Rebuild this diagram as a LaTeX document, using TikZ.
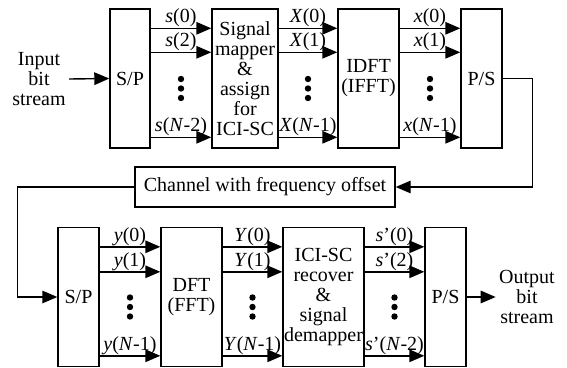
\documentclass[tikz,border=0pt]{standalone}
\usepackage{fontspec}
\setmainfont{Liberation Serif}
\usetikzlibrary{arrows.meta,calc}

\begin{document}
\begin{tikzpicture}[x=1pt, y=-1pt,
    font=\fontsize{20}{20}\selectfont,
    blk/.style={draw, line width=1.4pt, minimum height=139pt, align=center, inner sep=0pt},
    arr/.style={line width=1.4pt, -{Triangle[length=15pt,width=12.5pt]}},
    lbl/.style={midway, above, inner sep=0.5pt},
    vdots/.pic={\fill (0,-9.5) circle (3.2pt) (0,0) circle (3.2pt) (0,9.5) circle (3.2pt);}]
    \useasboundingbox (0,0) rectangle (567,367);
    % transmitter
    \node[align=center] (in) at (39,79) {Input\\bit\\stream};
    \node[blk, minimum width=40pt] (sp1) at (130,78.5) {S/P};
    \node[blk, minimum width=66pt] (map) at (245,78.5) {Signal\\mapper\\\&\\assign\\for\\ICI-SC};
    \node[blk, minimum width=61pt] (idft) at (368.5,78.5) {IDFT\\(IFFT)};
    \node[blk, minimum width=41pt] (ps1) at (481.5,78.5) {P/S};
    % channel
    \node[draw, line width=1.4pt, minimum width=260pt, minimum height=40pt] (ch) at (265,187) {Channel with frequency offset};
    % receiver
    \node[blk, minimum width=41pt] (sp2) at (78.5,297) {S/P};
    \node[blk, minimum width=61pt] (dft) at (191.5,297) {DFT\\(FFT)};
    \node[blk, minimum width=81pt] (ici) at (323.5,297) {ICI-SC\\recover\\\&\\signal\\demapper};
    \node[blk, minimum width=41pt] (ps2) at (445.5,297) {P/S};
    \node[align=center] (out) at (527,297) {Output\\bit\\stream};

    \draw[arr] (in.east) -- (sp1.west);
    \draw[arr] ([yshift=-20pt]sp1.north east) -- ([yshift=-20pt]map.north west) node[lbl] {\textit{s}(0)};
    \draw[arr] ([yshift=-44pt]sp1.north east) -- ([yshift=-44pt]map.north west) node[lbl] {\textit{s}(2)};
    \draw[arr] ([yshift=-129pt]sp1.north east) -- ([yshift=-129pt]map.north west) node[lbl] {\textit{s}(\textit{N}-2)};
    \draw[arr] ([yshift=-20pt]map.north east) -- ([yshift=-20pt]idft.north west) node[lbl] {\textit{X}(0)};
    \draw[arr] ([yshift=-44pt]map.north east) -- ([yshift=-44pt]idft.north west) node[lbl] {\textit{X}(1)};
    \draw[arr] ([yshift=-129pt]map.north east) -- ([yshift=-129pt]idft.north west) node[lbl] {\textit{X}(\textit{N}-1)};
    \draw[arr] ([yshift=-20pt]idft.north east) -- ([yshift=-20pt]ps1.north west) node[lbl] {\textit{x}(0)};
    \draw[arr] ([yshift=-44pt]idft.north east) -- ([yshift=-44pt]ps1.north west) node[lbl] {\textit{x}(1)};
    \draw[arr] ([yshift=-129pt]idft.north east) -- ([yshift=-129pt]ps1.north west) node[lbl] {\textit{x}(\textit{N}-1)};
    \draw[arr] (ps1.east) -- ++(30,0) |- (ch.east);
    \draw[arr] (ch.west) -- ++(-117,0) |- (sp2.west);
    \draw[arr] ([yshift=-20pt]sp2.north east) -- ([yshift=-20pt]dft.north west) node[lbl] {\textit{y}(0)};
    \draw[arr] ([yshift=-45pt]sp2.north east) -- ([yshift=-45pt]dft.north west) node[lbl] {\textit{y}(1)};
    \draw[arr] ([yshift=-129pt]sp2.north east) -- ([yshift=-129pt]dft.north west) node[lbl] {\textit{y}(\textit{N}-1)};
    \draw[arr] ([yshift=-20pt]dft.north east) -- ([yshift=-20pt]ici.north west) node[lbl] {\textit{Y}(0)};
    \draw[arr] ([yshift=-45pt]dft.north east) -- ([yshift=-45pt]ici.north west) node[lbl] {\textit{Y}(1)};
    \draw[arr] ([yshift=-129pt]dft.north east) -- ([yshift=-129pt]ici.north west) node[lbl] {\textit{Y}(\textit{N}-1)};
    \draw[arr] ([yshift=-20pt]ici.north east) -- ([yshift=-20pt]ps2.north west) node[lbl] {\textit{s}'(0)};
    \draw[arr] ([yshift=-45pt]ici.north east) -- ([yshift=-45pt]ps2.north west) node[lbl] {\textit{s}'(2)};
    \draw[arr] ([yshift=-129pt]ici.north east) -- ([yshift=-129pt]ps2.north west) node[lbl] {\textit{s}'(\textit{N}-2)};
    \draw[arr] (ps2.east) -- (out.west);

    % dots
    \pic at ($(sp1.east)!.5!(map.west)+(0,10)$) {vdots};
    \pic at ($(map.east)!.5!(idft.west)+(0,10)$) {vdots};
    \pic at ($(idft.east)!.5!(ps1.west)+(0,10)$) {vdots};
    \pic at ($(sp2.east)!.5!(dft.west)+(0,10)$) {vdots};
    \pic at ($(dft.east)!.5!(ici.west)+(0,10)$) {vdots};
    \pic at ($(ici.east)!.5!(ps2.west)+(0,10)$) {vdots};
\end{tikzpicture}
\end{document}
